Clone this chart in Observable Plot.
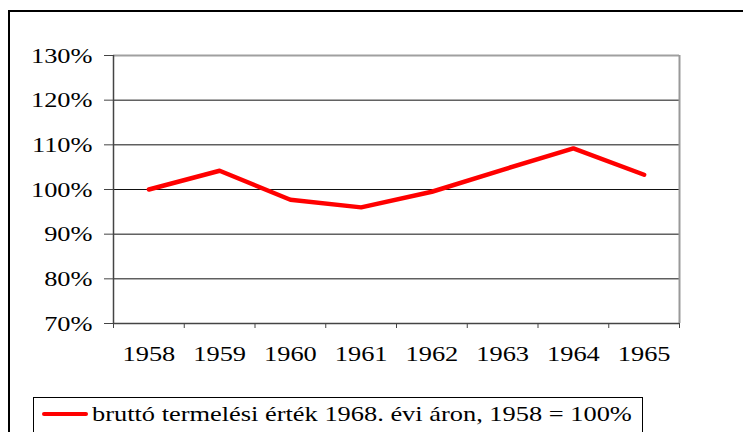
<!DOCTYPE html>
<html>
<head>
<meta charset="utf-8">
<script src="https://cdn.jsdelivr.net/npm/d3@7"></script>
<script src="https://cdn.jsdelivr.net/npm/@observablehq/plot@0.6"></script>
<style>
  html, body { margin: 0; padding: 0; background: #fff; }
  body { width: 743px; height: 432px; position: relative; overflow: hidden; font-family: "Liberation Serif", "Times New Roman", serif; }
  #frame { position: absolute; left: 8px; top: 10px; width: 900px; height: 600px; border-left: 2px solid #000; border-top: 2px solid #000; }
  #chart { position: absolute; left: 0; top: 0; }
  #legend { position: absolute; left: 33px; top: 397px; width: 608px; height: 60px; border: 1px solid #000; background: #fff; }
  #legend .sw { position: absolute; left: 8px; top: 14px; width: 46px; height: 4px; background: #ff0000; border-radius: 2px; }
  #legend .tx { position: absolute; left: 58px; top: 5px; font-size: 22px; line-height: 22px; white-space: nowrap; color: #000; transform: scaleX(1.2); transform-origin: left center; }
</style>
</head>
<body>
<div id="frame"></div>
<div id="chart"></div>
<div id="legend"><div class="sw"></div><div class="tx">bruttó termelési érték 1968. évi áron, 1958 = 100%</div></div>
<script>
const years = ["1958", "1959", "1960", "1961", "1962", "1963", "1964", "1965"];
const values = [100, 104.2, 97.7, 96.0, 99.5, 104.4, 109.2, 103.3];
const yTicks = [70, 80, 90, 100, 110, 120, 130];
const seriesName = "bruttó termelési érték 1968. évi áron, 1958 = 100%";

const idx = d3.range(years.length);
const bounds = d3.range(years.length + 1).map(i => i - 0.5);

const plot = Plot.plot({
  width: 743,
  height: 370,
  marginLeft: 113,
  marginRight: 64,
  marginTop: 55,
  marginBottom: 47,
  style: { fontFamily: "Liberation Serif, Times New Roman, serif", fontSize: "22px", color: "#000", background: "transparent" },
  x: { type: "linear", domain: [-0.5, years.length - 0.5], axis: null },
  y: { domain: [70, 130], axis: null },
  marks: [
    Plot.ruleY(yTicks.filter(v => v > 70 && v < 130), { stroke: "#111", strokeWidth: 1 }),
    Plot.ruleY([130], { stroke: "#a0a0a0", strokeWidth: 2 }),
    Plot.ruleX([years.length - 0.5], { stroke: "#999", strokeWidth: 2 }),
    Plot.ruleX([-0.5], { stroke: "#444", strokeWidth: 1.5 }),
    Plot.ruleY([70], { stroke: "#444", strokeWidth: 1.5 }),
    Plot.axisY(yTicks, { tickSize: 9, tickPadding: 12, tickFormat: d => d + "%", fontSize: 22, stroke: "#444", label: null }),
    Plot.axisX(bounds, { tickSize: 5, tickFormat: () => "", stroke: "#444", label: null }),
    Plot.axisX(idx, { tickSize: 0, tickPadding: 22, tickFormat: i => years[i], fontSize: 22, label: null }),
    Plot.line(values, { x: (d, i) => i, y: d => d, stroke: "#ff0000", strokeWidth: 4.5, strokeLinejoin: "round", strokeLinecap: "round", title: () => seriesName })
  ]
});

// horizontal stretch of labels to mimic the reference's wide serif font
for (const t of plot.querySelectorAll("text")) {
  const tr = t.getAttribute("transform");
  if (tr && t.textContent.trim() !== "") t.setAttribute("transform", tr + " scale(1.2,1)");
}
document.getElementById("chart").appendChild(plot);
</script>
</body>
</html>
